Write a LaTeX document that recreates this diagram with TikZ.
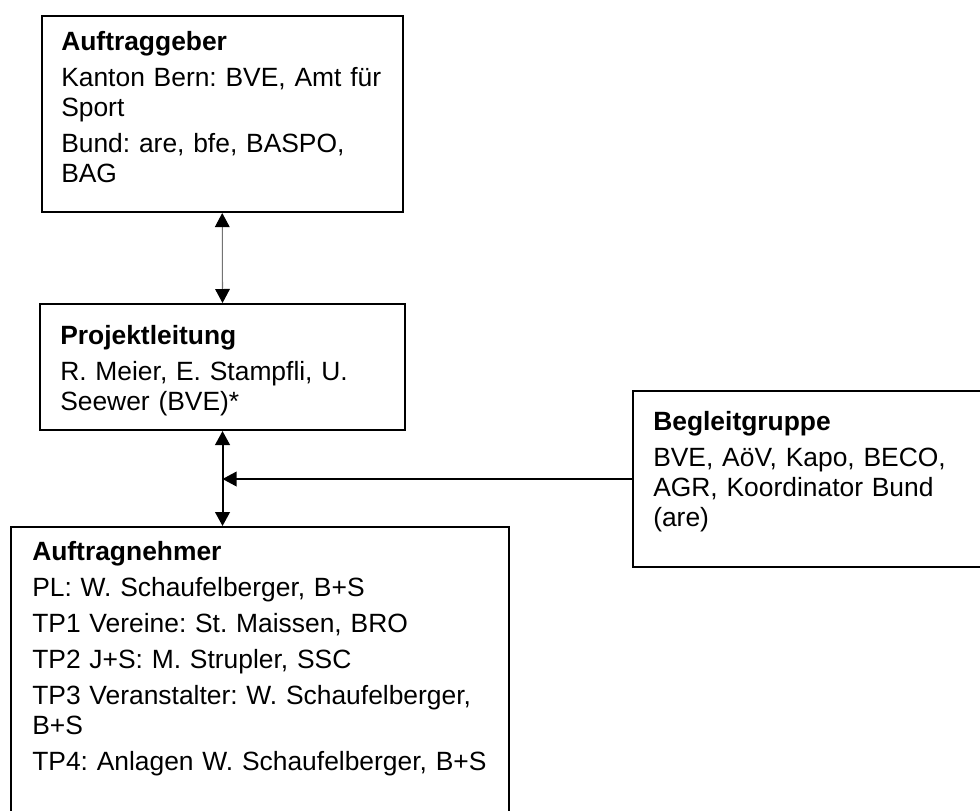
\documentclass[tikz,border=0pt]{standalone}
\usepackage{fontspec}
\setmainfont{Liberation Sans}
\frenchspacing
\usetikzlibrary{arrows.meta,positioning,calc}

\begin{document}
\begin{tikzpicture}[x=0.75pt,y=-0.75pt,
 >={Triangle[width=11pt,length=10.5pt,color=black]},
 box/.style={draw,line width=1.5pt,rectangle,anchor=north west,inner sep=0pt},
 txt/.style={anchor=base west,text width=#1,align=left,inner sep=0pt,font=\fontsize{19.8}{22.5}\selectfont}]
\useasboundingbox (0,0) rectangle (980,810);
\clip (0,0) rectangle (980,810);
% boxes
\node[box,minimum width=271.1pt,minimum height=147.4pt] (ag) at (40.5,14.5) {};
\node[box,minimum width=273.8pt,minimum height=94.5pt] (pl) at (39,303) {};
\node[box,minimum width=270pt,minimum height=132pt] (bg) at (632,390) {};
\node[box,minimum width=373.5pt,minimum height=240pt] (an) at (10,526) {};
% texts
\node[txt=300pt] (agt) at (61,50) {\textbf{Auftraggeber}\\[4.5pt] Kanton Bern: BVE, Amt für\\ Sport\\[4.5pt] Bund: are, bfe, BASPO,\\ BAG};
\node[txt=300pt] (plt) at (60,344.5) {\textbf{Projektleitung}\\[4.5pt] R. Meier, E. Stampfli, U.\\ Seewer (BVE)*};
\node[txt=300pt] (bgt) at (653,430) {\textbf{Begleitgruppe}\\[4.5pt] BVE, AöV, Kapo, BECO,\\ AGR, Koordinator Bund\\ (are)};
\node[txt=360pt] (ant) at (32,560.7) {\textbf{Auftragnehmer}\\[4.5pt] PL: W. Schaufelberger, B+S\\[4.5pt] TP1 Vereine: St. Maissen, BRO\\[4.5pt] TP2 J+S: M. Strupler, SSC\\[4.5pt] TP3 Veranstalter: W. Schaufelberger,\\ B+S\\[4.5pt] TP4: Anlagen W. Schaufelberger, B+S};
% connectors
\draw[<->,line width=0.8pt,black!55] (ag.south) -- (pl.north);
\draw[<->,line width=1.5pt] (pl.south) -- (pl.south |- an.north);
\draw[->,line width=1.1pt] (bg.west) -- (bg.west -| pl.south);
\end{tikzpicture}
\end{document}
